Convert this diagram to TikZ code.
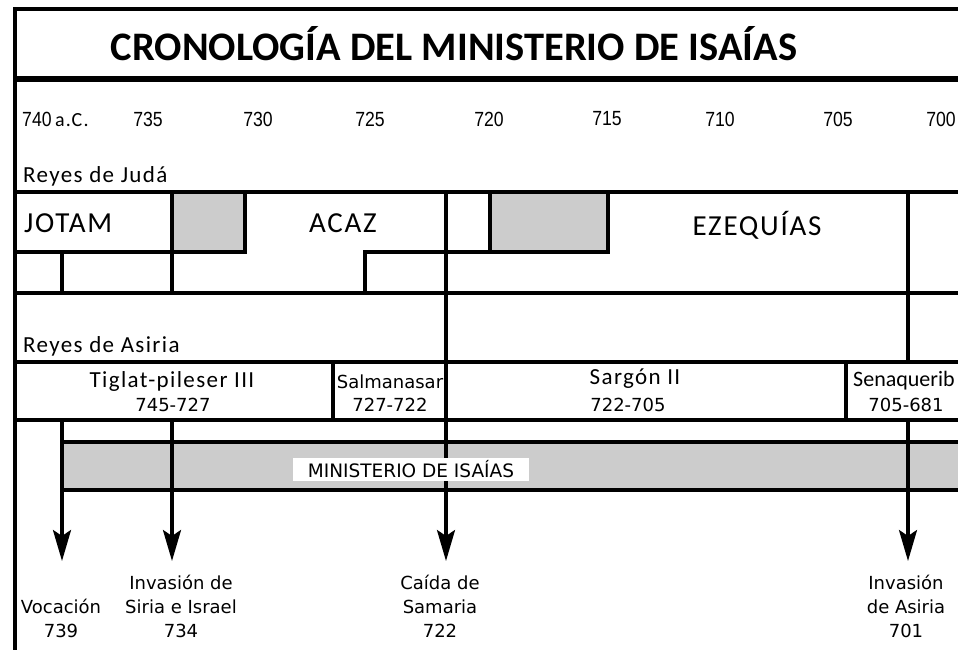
\documentclass[tikz,border=0pt]{standalone}
\usepackage{fontspec}
\setmainfont{Carlito}
\newfontfamily\fDV{DejaVu Sans}
\newfontfamily\fYR{Liberation Sans}[FakeStretch=0.86]
\newfontfamily\fCS{Carlito}[LetterSpace=6]
\usetikzlibrary{arrows.meta}
\tikzset{
  ln/.style={line width=3.2pt, line cap=rect},
  grayfill/.style={fill=black!20},
  yr/.style={font=\fYR\fontsize{20.5}{22}\selectfont, inner sep=0pt},
  king/.style={font=\fCS\fontsize{29}{30}\selectfont, inner sep=0pt},
  nm/.style={font=\fCS\fontsize{23}{24}\selectfont, inner sep=0pt},
  sm/.style={font=\fDV\fontsize{18}{24}\selectfont, inner sep=0pt, align=center},
  arr/.style={line width=3.2pt, -{Stealth[length=31pt,width=18pt,inset=6pt]}},
}
\begin{document}
\begin{tikzpicture}[x=1pt,y=-1pt]
\useasboundingbox (0,0) rectangle (958,650);
\clip (0,0) rectangle (958,650);
\fill[white] (0,0) rectangle (958,650);
% title frame
\draw[line width=3.2pt] (15,655) -- (15,9) -- (965,9);
\draw[line width=6pt] (15,79) -- (965,79);
\node[font=\fontsize{40.5}{42}\selectfont\bfseries, inner sep=0pt] (title) at (454,44) {CRONOLOGÍA DEL MINISTERIO DE ISAÍAS};
% years
\node[yr, anchor=west] (y740) at (22,119) {740\,{\fCS\fontsize{20}{22}\selectfont a.C.}};
\node[yr] (y735) at (148,119) {735};
\node[yr] (y730) at (258,119) {730};
\node[yr] (y725) at (370,119) {725};
\node[yr] (y720) at (489,119) {720};
\node[yr] (y715) at (607,119) {715};
\node[yr] (y710) at (720,119) {710};
\node[yr] (y705) at (838,119) {705};
\node[yr] (y700) at (941,119) {700};
% Judah
\node[nm, anchor=west] (rj) at (23,176) {Reyes de Judá};
\fill[grayfill] (172,192) rectangle (245,252);
\fill[grayfill] (490,192) rectangle (608,252);
\draw[ln] (15,192) -- (965,192);
\draw[ln] (15,293) -- (965,293);
\draw[ln] (15,252) -- (245,252);
\draw[ln] (365,252) -- (608,252);
\draw[ln] (62,252) -- (62,293);
\draw[ln] (172,192) -- (172,293);
\draw[ln] (245,192) -- (245,252);
\draw[ln] (365,252) -- (365,293);
\draw[ln] (490,192) -- (490,252);
\draw[ln] (608,192) -- (608,252);
\draw[ln] (908,192) -- (908,362);
\node[king, anchor=west] (jotam) at (24,223) {JOTAM};
\node[king] (acaz) at (343,223) {ACAZ};
\node[king] (ezeq) at (757,225) {EZEQUÍAS};
% Assyria
\node[nm, anchor=west] (ra) at (23,346) {Reyes de Asiria};
\draw[ln] (15,362) -- (965,362);
\draw[ln] (15,420) -- (965,420);
\draw[ln] (333,362) -- (333,420);
\draw[ln] (846,362) -- (846,420);
\node[nm] (tig) at (172,381) {Tiglat-pileser III};
\node[sm] (tigd) at (173,405) {745-727};
\node[sm] (sal) at (390,382) {Salmanasar};
\node[sm] (sald) at (390,405) {727-722};
\node[nm] (sar) at (635,379) {Sargón II};
\node[sm] (sard) at (628,405) {722-705};
\node[font=\fontsize{22}{24}\selectfont, inner sep=0pt, anchor=west] (sen) at (853,381) {Senaquerib};
\node[sm] (send) at (906,405) {705-681};
% ministry bar
\fill[grayfill] (62,442) rectangle (965,490);
\draw[ln] (62,442) -- (965,442);
\draw[ln] (62,490) -- (965,490);
% arrows
\coordinate (a1s) at (62,420);  \coordinate (a1e) at (62,561);
\coordinate (a2s) at (172,420); \coordinate (a2e) at (172,561);
\coordinate (a3s) at (446,192); \coordinate (a3e) at (446,561);
\coordinate (a4s) at (908,420); \coordinate (a4e) at (908,561);
\draw[arr] (a1s) -- (a1e);
\draw[arr] (a2s) -- (a2e);
\draw[arr] (a3s) -- (a3e);
\draw[arr] (a4s) -- (a4e);
\node[fill=white, inner sep=0pt, minimum width=236pt, minimum height=23pt,
      font=\fDV\fontsize{18.5}{20}\selectfont] (min) at (411,469) {MINISTERIO DE ISAÍAS};
% events
\node[sm] (ev1) at (61,618) {Vocación\\739};
\node[sm] (ev2) at (181,606) {Invasión de\\Siria e Israel\\734};
\node[sm] (ev3) at (440,606) {Caída de\\Samaria\\722};
\node[sm] (ev4) at (906,606) {Invasión\\de Asiria\\701};
\end{tikzpicture}
\end{document}
